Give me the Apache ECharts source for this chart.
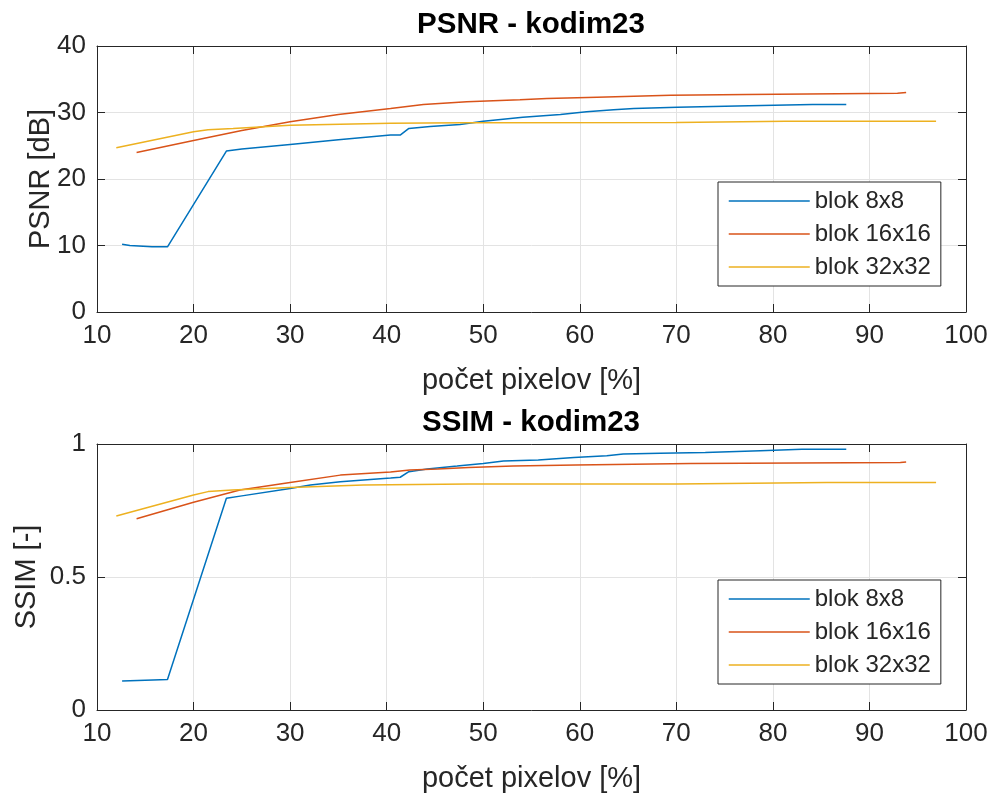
<!DOCTYPE html>
<html>
<head>
<meta charset="utf-8">
<script src="https://cdn.jsdelivr.net/npm/echarts@6/dist/echarts.min.js"></script>
<style>html,body{margin:0;padding:0;background:#fff}#c{width:991px;height:796px}</style>
</head>
<body>
<div id="c"></div>
<script>
// ---- data ----
const seriesNames = ['blok 8x8', 'blok 16x16', 'blok 32x32'];
const xTicks = [10, 20, 30, 40, 50, 60, 70, 80, 90, 100];
const psnrTicks = [0, 10, 20, 30, 40];
const ssimTicks = [0, 0.5, 1];

const psnr8x = [12.6, 13.4, 15.7, 17.3, 23.4, 25.0, 30.0, 35.0, 40.4, 41.4, 42.3, 44.5, 47.6, 50.0, 54.1, 58.0, 60.7, 63.5, 65.6, 70.1, 77.5, 84.1, 87.6];
const psnr8y = [10.2, 10.0, 9.8, 9.8, 24.2, 24.5, 25.2, 25.9, 26.6, 26.6, 27.6, 27.9, 28.2, 28.7, 29.3, 29.7, 30.1, 30.4, 30.6, 30.8, 31.0, 31.2, 31.2];
const psnr16x = [14.1, 20.0, 25.0, 30.0, 35.0, 40.4, 43.8, 48.3, 53.8, 56.6, 61.8, 69.4, 77.3, 92.9, 93.8];
const psnr16y = [24.0, 25.8, 27.3, 28.6, 29.7, 30.6, 31.2, 31.6, 31.9, 32.1, 32.3, 32.6, 32.7, 32.9, 33.0];
const psnr32x = [12.0, 20.0, 21.5, 24.1, 30.0, 40.4, 47.9, 70.0, 81.3, 96.9];
const psnr32y = [24.7, 27.1, 27.4, 27.6, 28.1, 28.4, 28.45, 28.5, 28.7, 28.7];

const ssim8x = [12.6, 15.8, 17.3, 23.4, 25.0, 30.0, 32.1, 35.2, 40.4, 41.4, 42.3, 44.2, 47.3, 50.0, 52.1, 55.7, 59.4, 62.8, 64.5, 68.3, 73.0, 78.7, 83.0, 87.6];
const ssim8y = [0.109, 0.113, 0.115, 0.796, 0.805, 0.833, 0.846, 0.858, 0.872, 0.875, 0.896, 0.906, 0.917, 0.927, 0.936, 0.940, 0.949, 0.956, 0.962, 0.965, 0.968, 0.975, 0.980, 0.980];
const ssim16x = [14.1, 20.0, 24.8, 30.0, 35.2, 40.4, 42.4, 45.3, 48.5, 53.1, 59.6, 71.5, 93.2, 93.8];
const ssim16y = [0.719, 0.781, 0.827, 0.855, 0.883, 0.895, 0.902, 0.906, 0.912, 0.917, 0.921, 0.927, 0.930, 0.932];
const ssim32x = [12.0, 20.0, 21.5, 24.0, 30.0, 37.6, 48.5, 70.0, 85.6, 96.9];
const ssim32y = [0.729, 0.808, 0.821, 0.827, 0.836, 0.846, 0.850, 0.850, 0.855, 0.855];

// ---- styling ----
const FONT = '"Liberation Sans", Arial, Helvetica, sans-serif';
const AX = '#262626';
const GRIDC = '#e3e3e3';
const colors = ['#0072BD', '#D95319', '#EDB120'];
const zip = (xs, ys) => xs.map((x, i) => [x, ys[i]]);

function xAx(gi, pos, show, name) {
  return {
    type: 'value', gridIndex: gi, position: pos, min: xTicks[0], max: xTicks[xTicks.length - 1], interval: 10,
    axisLine: { show: true, onZero: false, lineStyle: { color: AX, width: 1 } },
    axisTick: { show: true, inside: true, length: 8, lineStyle: { color: AX } },
    axisLabel: { show: show, color: AX, fontSize: 26, fontFamily: FONT, margin: 11 },
    splitLine: { show: show, lineStyle: { color: GRIDC, width: 1 } },
    name: name || '', nameLocation: 'middle', nameGap: 54, nameMoveOverlap: false,
    nameTextStyle: { color: AX, fontSize: 29, fontFamily: FONT }
  };
}
function yAx(gi, pos, show, ticks, name, gap) {
  return {
    type: 'value', gridIndex: gi, position: pos, min: ticks[0], max: ticks[ticks.length - 1], interval: ticks[1] - ticks[0],
    axisLine: { show: true, onZero: false, lineStyle: { color: AX, width: 1 } },
    axisTick: { show: true, inside: true, length: 8, lineStyle: { color: AX } },
    axisLabel: { show: show, color: AX, fontSize: 26, fontFamily: FONT, margin: 11 },
    splitLine: { show: show, lineStyle: { color: GRIDC, width: 1 } },
    name: name || '', nameLocation: 'middle', nameGap: gap || 40, nameMoveOverlap: false,
    nameTextStyle: { color: AX, fontSize: 29, fontFamily: FONT }
  };
}
function line(name, data, color, xi, yi) {
  return {
    type: 'line', name: name, data: data, xAxisIndex: xi, yAxisIndex: yi,
    symbol: 'none', showSymbol: false, smooth: false, animation: false,
    lineStyle: { color: color, width: 1.5 }, itemStyle: { color: color }
  };
}
function legend(top) {
  return {
    data: seriesNames, orient: 'vertical', left: 718, top: top,
    itemWidth: 81, itemHeight: 14, itemGap: 9, padding: [7, 10, 7, 10],
    backgroundColor: '#fff', borderColor: AX, borderWidth: 1, borderRadius: 0,
    itemStyle: { opacity: 0, borderWidth: 0 },
    lineStyle: { width: 1.5 },
    textStyle: { color: AX, fontSize: 24, fontFamily: FONT, lineHeight: 24 },
    selectedMode: false
  };
}

const chart = echarts.init(document.getElementById('c'), null, { renderer: 'canvas' });
chart.setOption({
  backgroundColor: '#fff',
  animation: false,
  title: [
    { text: 'PSNR - kodim23', left: 526, top: 5, textAlign: 'center', textStyle: { fontSize: 29.5, fontWeight: 'bold', color: '#000', fontFamily: FONT } },
    { text: 'SSIM - kodim23', left: 526, top: 403, textAlign: 'center', textStyle: { fontSize: 29.5, fontWeight: 'bold', color: '#000', fontFamily: FONT } }
  ],
  grid: [
    { left: 97, right: 25, top: 46, height: 266 },
    { left: 97, right: 25, top: 444, height: 266 }
  ],
  xAxis: [
    xAx(0, 'bottom', true, 'počet pixelov [%]'), xAx(0, 'top', false),
    xAx(1, 'bottom', true, 'počet pixelov [%]'), xAx(1, 'top', false)
  ],
  yAxis: [
    yAx(0, 'left', true, psnrTicks, 'PSNR [dB]', 42), yAx(0, 'right', false, psnrTicks),
    yAx(1, 'left', true, ssimTicks, 'SSIM [-]', 56), yAx(1, 'right', false, ssimTicks)
  ],
  legend: [legend(182), legend(580)],
  series: [
    line(seriesNames[0], zip(psnr8x, psnr8y), colors[0], 0, 0),
    line(seriesNames[1], zip(psnr16x, psnr16y), colors[1], 0, 0),
    line(seriesNames[2], zip(psnr32x, psnr32y), colors[2], 0, 0),
    line(seriesNames[0], zip(ssim8x, ssim8y), colors[0], 2, 2),
    line(seriesNames[1], zip(ssim16x, ssim16y), colors[1], 2, 2),
    line(seriesNames[2], zip(ssim32x, ssim32y), colors[2], 2, 2)
  ]
});
</script>
</body>
</html>
